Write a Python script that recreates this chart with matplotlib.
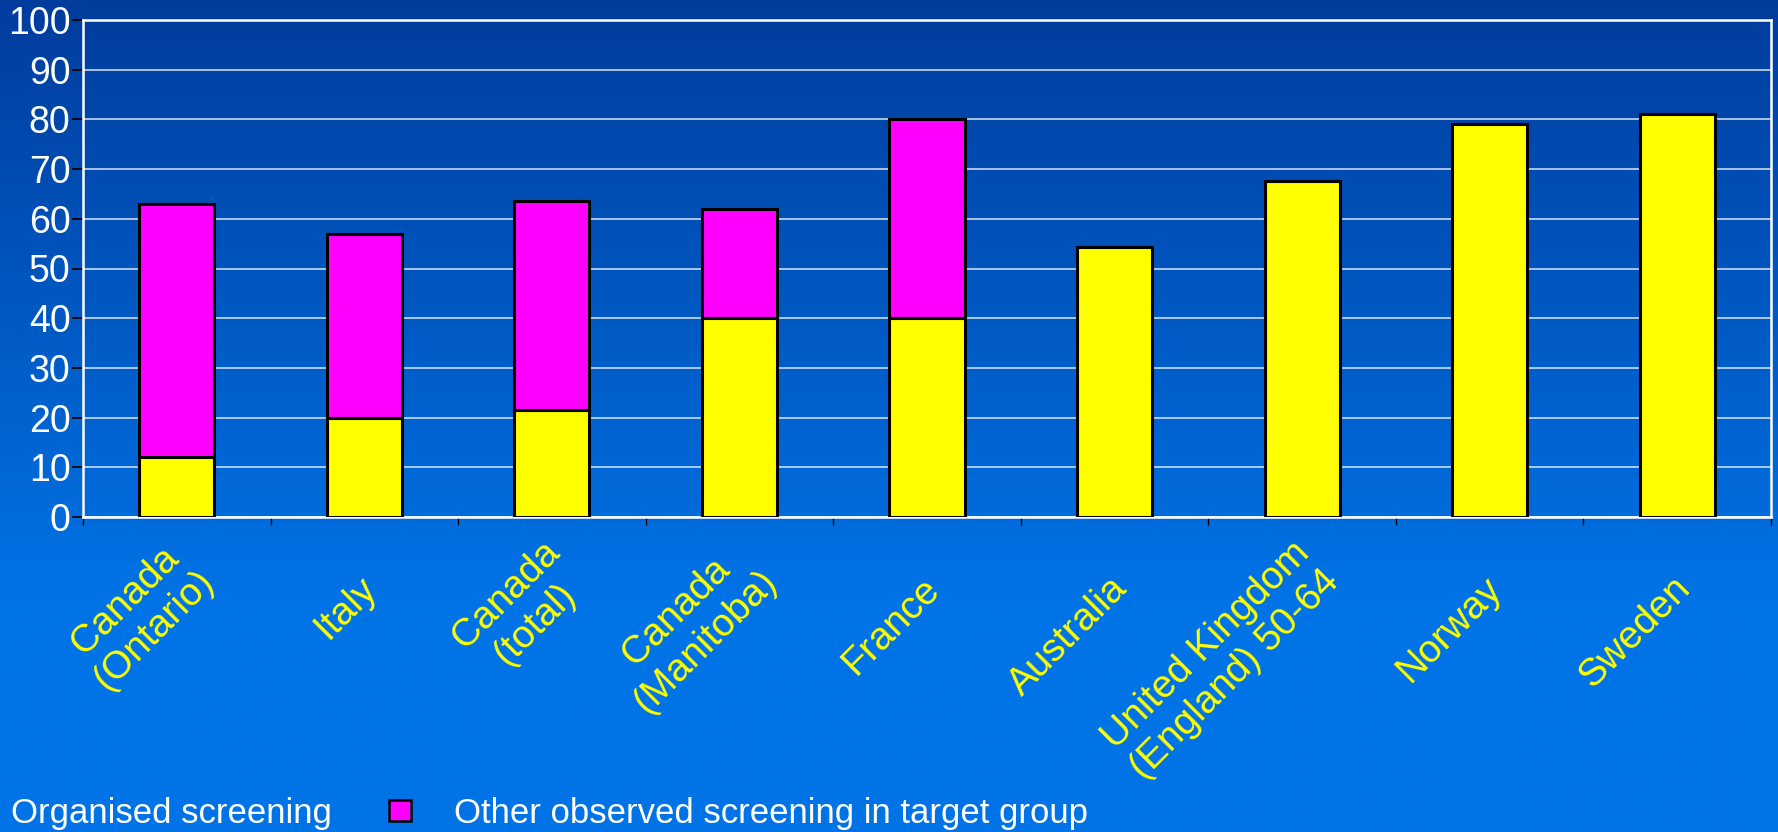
import numpy as np
import matplotlib
matplotlib.use("Agg")
import matplotlib.pyplot as plt
from matplotlib.colors import LinearSegmentedColormap
import matplotlib.transforms as mtransforms

plt.rcParams['font.family'] = ['Liberation Sans', 'DejaVu Sans']

categories = ["Canada\n(Ontario)", "Italy", "Canada\n(total)", "Canada\n(Manitoba)",
              "France", "Australia", "United Kingdom\n(England) 50-64", "Norway", "Sweden"]
organised = [12, 20, 21.5, 40, 40, 54.3, 67.6, 79, 81]
total = [63, 57, 63.6, 62, 80, 54.3, 67.6, 79, 81]
other = [t - o for t, o in zip(total, organised)]
yticks = [0, 10, 20, 30, 40, 50, 60, 70, 80, 90, 100]
legend_labels = ["Organised screening", "Other observed screening in target group"]

W, H = 1778, 832
fig = plt.figure(figsize=(W / 100, H / 100), dpi=100)

# background gradient
bg = fig.add_axes([0, 0, 1, 1], zorder=-10)
bg.axis('off')
cmap = LinearSegmentedColormap.from_list('bg', [(0.0, '#003C9C'), (0.72, '#0073E6'), (1.0, '#0073E6')])
grad = np.linspace(0, 1, 512).reshape(-1, 1)
bg.imshow(grad, aspect='auto', cmap=cmap, extent=[0, 1, 0, 1], origin='upper')
bg.set_xlim(0, 1)
bg.set_ylim(0, 1)

left, right = 83 / W, 1771 / W
top, bottom = 1 - 20 / H, 1 - 517 / H
ax = fig.add_axes([left, bottom, right - left, top - bottom])
ax.patch.set_alpha(0)

x = np.arange(len(categories))
bw = 0.40
ax.bar(x, organised, width=bw, color='#FFFF00', edgecolor='black', linewidth=2.2, zorder=3)
ax.bar(x, other, bottom=organised, width=bw, color='#FF00FF', edgecolor='black', linewidth=2.2, zorder=3)

ax.set_xlim(-0.5, len(categories) - 0.5)
ax.set_ylim(0, 100)
ax.set_yticks(yticks)
ax.set_yticklabels([str(v) for v in yticks], color='white', fontsize=27)
ax.tick_params(axis='y', direction='out', length=8, width=1.2, color='black', pad=1)
ax.yaxis.grid(True, color='white', linewidth=1.1, alpha=0.85, zorder=1)
ax.set_axisbelow(True)

ax.set_xticks([])
ax.set_xticks(np.arange(-0.5, len(categories), 1.0), minor=True)
ax.tick_params(axis='x', which='minor', direction='out', length=6, width=1.0, color='black')
ax.tick_params(axis='x', which='major', length=0)

for side in ['left', 'bottom', 'top', 'right']:
    ax.spines[side].set_color('white')
    ax.spines[side].set_linewidth(1.8)

for xi, lab in zip(x, categories):
    multi = "\n" in lab
    dx = 0.07 + (0.10 if multi else 0.0)
    dy = -0.66 + (0.22 if multi else 0.0)
    offset = mtransforms.ScaledTranslation(dx, dy, fig.dpi_scale_trans)
    ax.text(xi, 0, lab, transform=ax.get_xaxis_transform() + offset,
            rotation=45, rotation_mode='anchor', ha='right', va='center',
            multialignment='center', color='#FFFF00', fontsize=28, linespacing=1.2)

# legend
fig.text(11 / W, 1 - 814 / H, legend_labels[0], color='white', fontsize=25,
         ha='left', va='center')
fig.patches.append(plt.Rectangle((389 / W, 1 - 821 / H), 22 / W, 21 / H,
                                 transform=fig.transFigure, facecolor='#FF00FF',
                                 edgecolor='black', linewidth=1.8))
fig.text(454 / W, 1 - 814 / H, legend_labels[1], color='white', fontsize=25,
         ha='left', va='center')

fig.savefig('out.png', dpi=100)
